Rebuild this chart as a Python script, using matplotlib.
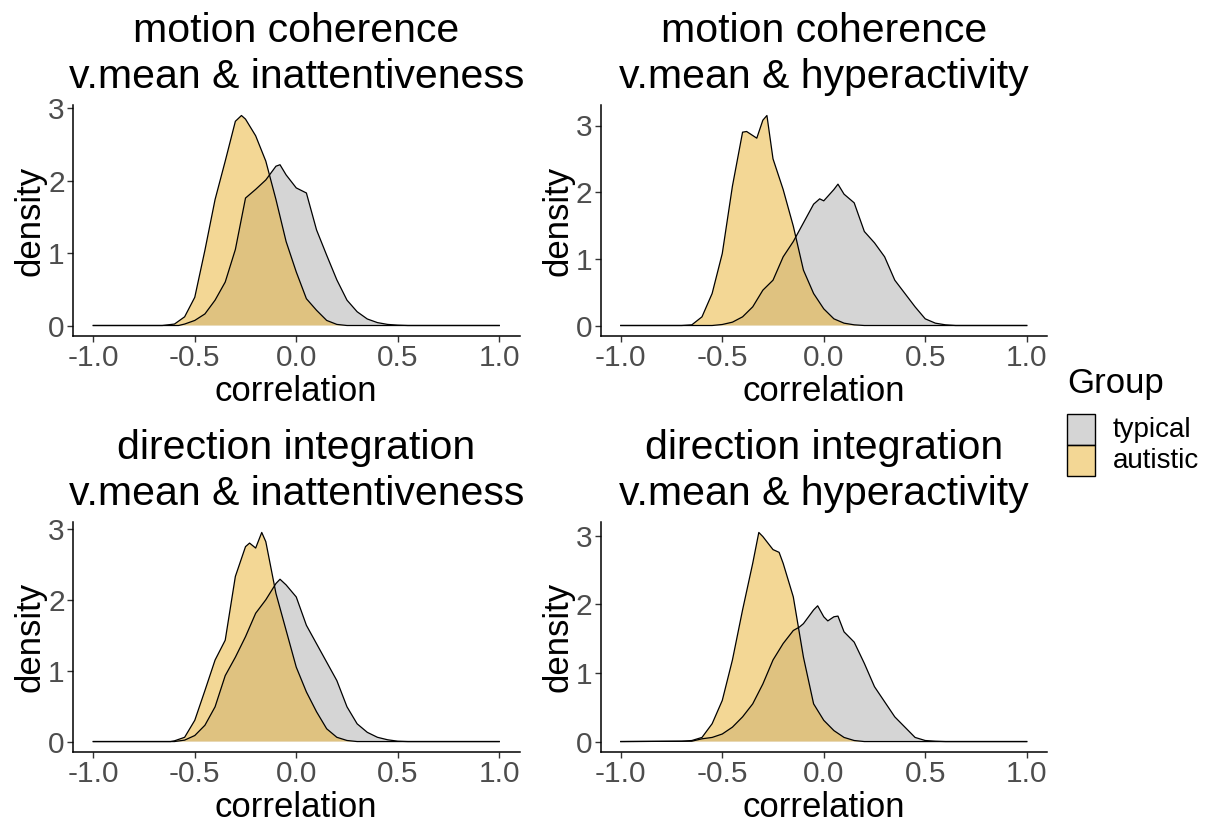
import matplotlib
matplotlib.use("Agg")
import matplotlib.pyplot as plt
from matplotlib.patches import Rectangle

plt.rcParams['font.family'] = ['Liberation Sans', 'DejaVu Sans']

# ---- data: density curves ----
groups = ["typical", "autistic"]
legend_title = "Group"
titles = ["motion coherence\nv.mean & inattentiveness",
          "motion coherence\nv.mean & hyperactivity",
          "direction integration\nv.mean & inattentiveness",
          "direction integration\nv.mean & hyperactivity"]
xticks = [-1.0, -0.5, 0.0, 0.5, 1.0]
xticklabels = ["-1.0", "-0.5", "0.0", "0.5", "1.0"]
yticks = [0, 1, 2, 3]

mc_inatt_typ_x = [-1.0, -0.58, -0.55, -0.5, -0.45, -0.4, -0.35, -0.3, -0.25, -0.2, -0.15, -0.1, -0.08, -0.05,
                  0.0, 0.05, 0.1, 0.15, 0.2, 0.25, 0.3, 0.35, 0.4, 0.45, 0.5, 0.55, 1.0]
mc_inatt_typ_y = [0, 0, 0.02, 0.07, 0.16, 0.35, 0.60, 1.05, 1.76, 1.88, 2.01, 2.20, 2.22, 2.08,
                  1.90, 1.83, 1.32, 0.97, 0.63, 0.35, 0.19, 0.09, 0.04, 0.015, 0.005, 0, 0]
mc_inatt_aut_x = [-1.0, -0.66, -0.6, -0.55, -0.5, -0.45, -0.4, -0.35, -0.3, -0.27, -0.25, -0.2, -0.15, -0.1,
                  -0.05, 0.0, 0.05, 0.1, 0.15, 0.2, 0.25, 1.0]
mc_inatt_aut_y = [0, 0, 0.02, 0.12, 0.39, 1.04, 1.74, 2.27, 2.82, 2.90, 2.85, 2.62, 2.27, 1.74,
                  1.16, 0.74, 0.37, 0.21, 0.07, 0.015, 0, 0]

mc_hyper_typ_x = [-1.0, -0.55, -0.5, -0.45, -0.4, -0.35, -0.3, -0.25, -0.2, -0.15, -0.1, -0.05, -0.02, 0.0,
                  0.05, 0.07, 0.1, 0.15, 0.2, 0.25, 0.3, 0.35, 0.4, 0.45, 0.5, 0.55, 0.6, 0.65, 1.0]
mc_hyper_typ_y = [0, 0, 0.015, 0.05, 0.13, 0.28, 0.53, 0.68, 1.03, 1.26, 1.54, 1.82, 1.90, 1.87,
                  2.04, 2.12, 1.97, 1.84, 1.41, 1.24, 1.03, 0.68, 0.48, 0.28, 0.10, 0.035, 0.01, 0, 0]
mc_hyper_aut_x = [-1.0, -0.7, -0.65, -0.6, -0.55, -0.5, -0.45, -0.4, -0.38, -0.35, -0.33, -0.3, -0.28,
                  -0.25, -0.2, -0.15, -0.1, -0.05, 0.0, 0.05, 0.1, 0.15, 0.2, 1.0]
mc_hyper_aut_y = [0, 0, 0.01, 0.13, 0.48, 1.08, 2.09, 2.90, 2.91, 2.85, 2.81, 3.08, 3.15,
                  2.50, 2.04, 1.49, 0.83, 0.48, 0.25, 0.10, 0.035, 0.01, 0, 0]

di_inatt_typ_x = [-1.0, -0.6, -0.55, -0.5, -0.45, -0.4, -0.35, -0.3, -0.25, -0.2, -0.15, -0.1, -0.08, -0.05,
                  0.0, 0.05, 0.1, 0.15, 0.2, 0.25, 0.3, 0.35, 0.4, 0.45, 0.5, 0.55, 1.0]
di_inatt_typ_y = [0, 0, 0.02, 0.085, 0.23, 0.49, 0.93, 1.19, 1.48, 1.81, 2.00, 2.23, 2.29, 2.21,
                  2.04, 1.64, 1.38, 1.12, 0.86, 0.49, 0.25, 0.13, 0.06, 0.025, 0.005, 0, 0]
di_inatt_aut_x = [-1.0, -0.62, -0.6, -0.55, -0.5, -0.45, -0.4, -0.35, -0.3, -0.25, -0.23, -0.2, -0.17,
                  -0.15, -0.1, -0.05, 0.0, 0.05, 0.1, 0.15, 0.2, 0.25, 0.3, 1.0]
di_inatt_aut_y = [0, 0, 0.01, 0.06, 0.30, 0.72, 1.15, 1.43, 2.33, 2.75, 2.80, 2.73, 2.95,
                  2.82, 2.09, 1.57, 1.05, 0.70, 0.42, 0.18, 0.06, 0.015, 0, 0]

di_hyper_typ_x = [-1.0, -0.65, -0.6, -0.55, -0.5, -0.45, -0.4, -0.35, -0.3, -0.25, -0.2, -0.15, -0.12, -0.1,
                  -0.05, -0.03, 0.0, 0.02, 0.05, 0.07, 0.1, 0.15, 0.2, 0.25, 0.3, 0.35, 0.4, 0.45, 0.5,
                  0.55, 0.6, 1.0]
di_hyper_typ_y = [0, 0.005, 0.04, 0.06, 0.11, 0.21, 0.36, 0.55, 0.84, 1.19, 1.43, 1.62, 1.67, 1.72,
                  1.92, 1.98, 1.82, 1.76, 1.82, 1.83, 1.60, 1.45, 1.14, 0.80, 0.58, 0.36, 0.21, 0.06, 0.015,
                  0.005, 0, 0]
di_hyper_aut_x = [-1.0, -0.7, -0.65, -0.6, -0.55, -0.5, -0.45, -0.4, -0.35, -0.32, -0.3, -0.25, -0.22,
                  -0.2, -0.15, -0.1, -0.05, 0.0, 0.05, 0.1, 0.15, 0.2, 1.0]
di_hyper_aut_y = [0, 0.005, 0.015, 0.06, 0.26, 0.60, 1.19, 1.92, 2.60, 3.05, 2.99, 2.80, 2.76,
                  2.60, 2.11, 1.23, 0.55, 0.31, 0.16, 0.06, 0.015, 0, 0]

panels = [
    ((mc_inatt_typ_x, mc_inatt_typ_y), (mc_inatt_aut_x, mc_inatt_aut_y)),
    ((mc_hyper_typ_x, mc_hyper_typ_y), (mc_hyper_aut_x, mc_hyper_aut_y)),
    ((di_inatt_typ_x, di_inatt_typ_y), (di_inatt_aut_x, di_inatt_aut_y)),
    ((di_hyper_typ_x, di_hyper_typ_y), (di_hyper_aut_x, di_hyper_aut_y)),
]

# ---- styling ----
fill_colors = {"typical": "#ADADAD", "autistic": "#E9B12D"}
W, H = 1212, 823
fig = plt.figure(figsize=(W / 100, H / 100), dpi=100)

# panel rectangles in pixels: left, top, right, bottom
rects = [(73, 105, 519.5, 336), (600.5, 105, 1047, 336),
         (73, 522, 519.5, 752), (600.5, 522, 1047, 752)]

for i, (rect, curves, title) in enumerate(zip(rects, panels, titles)):
    l, t, r, b = rect
    ax = fig.add_axes([l / W, 1 - b / H, (r - l) / W, (b - t) / H])
    ymax = 0
    for g, (xs, ys) in zip(groups, curves):
        ax.fill_between(xs, 0, ys, facecolor=fill_colors[g], alpha=0.5, linewidth=0)
        ax.plot(xs, ys, color="black", linewidth=0.9)
        ymax = max(ymax, max(ys))
    ax.set_xlim(-1.1, 1.1)
    ax.set_ylim(-0.05 * ymax, 1.05 * ymax)
    ax.set_xticks(xticks)
    ax.set_xticklabels(xticklabels)
    ax.set_yticks(yticks)
    for s in ["top", "right"]:
        ax.spines[s].set_visible(False)
    for s in ["left", "bottom"]:
        ax.spines[s].set_linewidth(1.1)
        ax.spines[s].set_color("black")
    ax.tick_params(axis="both", labelsize=21.5, colors="#4D4D4D", length=4, width=1.0, pad=2)
    ax.tick_params(axis="both", color="#333333")
    ax.set_xlabel("correlation", fontsize=25, labelpad=2)
    ax.set_ylabel("density", fontsize=25, labelpad=1)
    ax.set_title(title, fontsize=29.5, pad=12, linespacing=1.27)

# ---- legend drawn in figure pixel coordinates ----
def px(x, y):
    return x / W, 1 - y / H

fig.text(*px(1067, 383), legend_title, fontsize=25, va="center", ha="left")
key_tops = [414, 445]
for g, top in zip(groups, key_tops):
    x0, y0 = px(1067, top + 31)
    fig.add_artist(Rectangle((x0, y0), 28 / W, 31 / H, transform=fig.transFigure,
                             facecolor=fill_colors[g], alpha=0.5, edgecolor="none"))
    fig.add_artist(Rectangle((x0, y0), 28 / W, 31 / H, transform=fig.transFigure,
                             facecolor="none", edgecolor="black", linewidth=1.0))
    fig.text(*px(1113, top + 16), g, fontsize=20, va="center", ha="left")

fig.savefig("out.png", dpi=100)
